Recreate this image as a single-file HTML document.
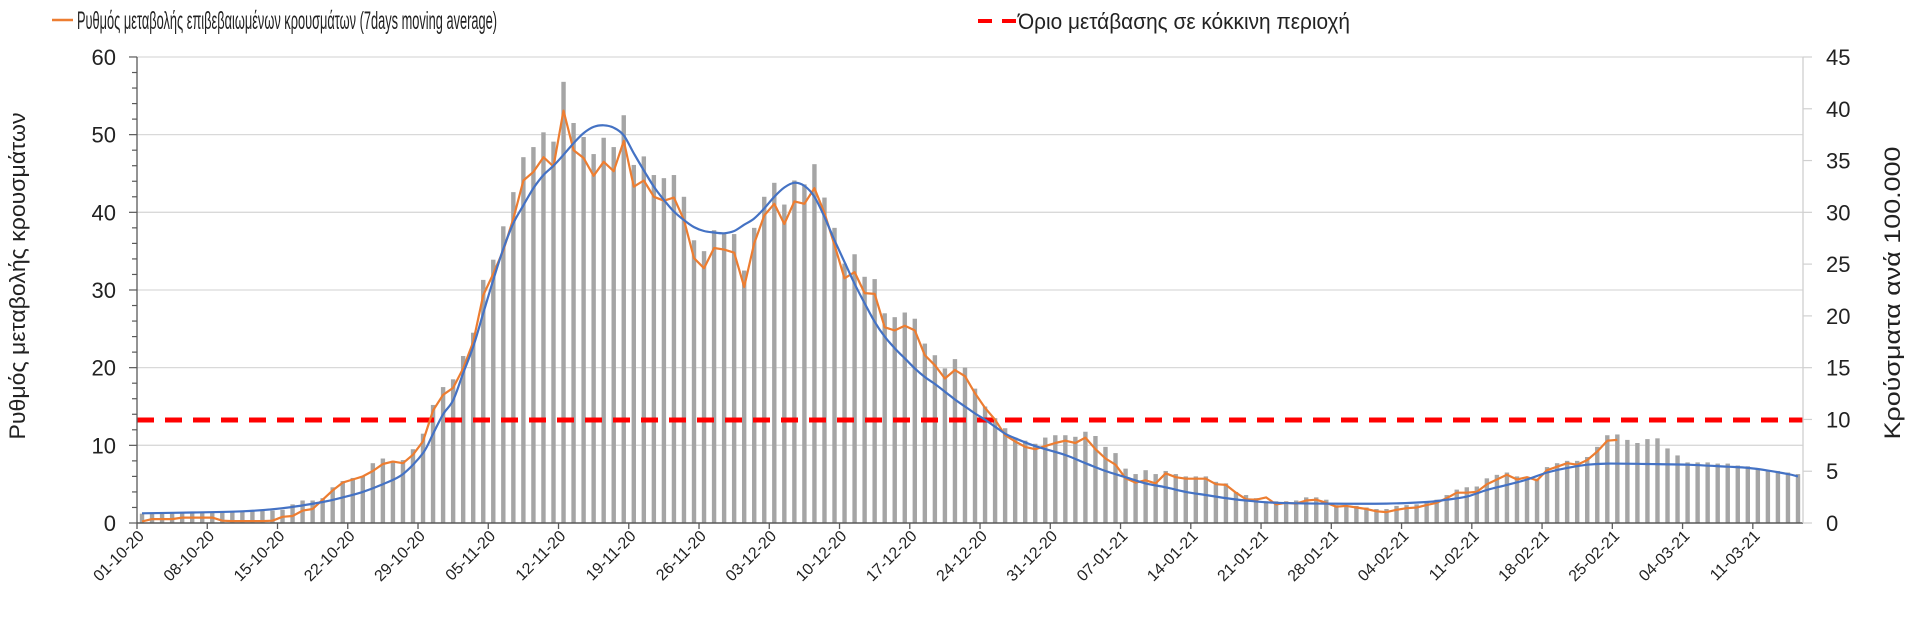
<!DOCTYPE html>
<html><head><meta charset="utf-8">
<style>
html,body{margin:0;padding:0;background:#fff;width:1920px;height:628px;overflow:hidden}
svg{display:block}
text{font-family:"Liberation Sans",sans-serif;fill:#222}
</style></head><body>
<svg id="c" width="1920" height="628" viewBox="0 0 1920 628" xmlns="http://www.w3.org/2000/svg">
<rect width="1920" height="628" fill="#fff"/>
<g id="grid"></g>
<g id="bars"></g>
<line x1="137" y1="420" x2="1803" y2="420" stroke="#ff0000" stroke-width="5" stroke-dasharray="17,11"/>
<polyline id="orange" fill="none" stroke="#ed7d31" stroke-width="2.2" stroke-linejoin="round"/>
<path id="blue" fill="none" stroke="#4472c4" stroke-width="2.2"/>
<g id="axes"></g>
<g id="xl"></g>
<line x1="52" y1="20" x2="73" y2="20" stroke="#ed7d31" stroke-width="2.5"/>
<text x="77" y="29" font-size="25" textLength="420" lengthAdjust="spacingAndGlyphs">Ρυθμός μεταβολής επιβεβαιωμένων κρουσμάτων (7days moving average)</text>
<line x1="978" y1="21" x2="1018" y2="21" stroke="#ff0000" stroke-width="4" stroke-dasharray="14,10"/>
<text x="1018" y="29" font-size="22" textLength="332" lengthAdjust="spacingAndGlyphs">Όριο μετάβασης σε κόκκινη περιοχή</text>
<text transform="translate(25,276) rotate(-90)" text-anchor="middle" font-size="22" textLength="327" lengthAdjust="spacingAndGlyphs">Ρυθμός μεταβολής κρουσμάτων</text>
<text transform="translate(1900,293) rotate(-90)" text-anchor="middle" font-size="22" textLength="293" lengthAdjust="spacingAndGlyphs">Κρούσματα ανά 100.000</text>
</svg>
<script>
var NS="http://www.w3.org/2000/svg";
function el(p,t,a,txt){var e=document.createElementNS(NS,t);for(var k in a)e.setAttribute(k,a[k]);if(txt!==undefined)e.textContent=txt;document.getElementById(p).appendChild(e);return e;}
var X0=137,X1=1803,N=166,W=(X1-X0)/N;
function cx(i){return X0+W*(i+0.5);}
function Y(v){return 523-v*7.767;}
for(var v=10;v<=60;v+=10){el("grid","line",{x1:X0,x2:X1,y1:Y(v),y2:Y(v),stroke:"#d9d9d9","stroke-width":1.3});}
var bars=[1.2,1.2,1.25,1.3,1.3,1.35,1.4,1.4,1.45,1.45,1.5,1.5,1.55,1.6,
1.7,2.4,2.9,2.9,3.2,4.6,5.4,5.8,6.0,7.7,8.3,8.0,8.1,9.5,11.5,
15.2,17.5,18.5,21.5,24.5,31.3,33.9,38.2,42.6,47.1,48.4,50.3,49.1,56.8,51.5,49.7,47.5,49.6,48.4,52.5,46.1,47.2,44.8,44.4,44.8,42.0,36.4,35.0,37.7,37.3,37.2,32.5,38.0,42.0,43.8,41.0,44.1,43.6,46.2,41.9,38.0,33.4,34.6,31.7,31.4,27.0,26.5,27.1,26.3,23.1,21.6,19.9,21.1,20.0,17.3,15.0,13.5,12.2,11.0,10.6,10.2,11.0,11.3,11.3,11.1,11.75,11.2,9.8,9.0,7.0,6.3,6.8,6.3,6.7,6.3,6.0,6.0,6.0,5.3,5.1,4.0,
3.6,3.2,2.8,2.8,2.8,2.9,3.3,3.3,3.0,2.3,2.2,2.2,2.0,1.8,1.8,2.2,2.3,2.4,2.7,3.0,
3.6,4.3,4.6,4.7,5.75,6.2,6.5,6.0,5.75,5.7,7.2,7.7,8.0,8.0,8.5,9.8,11.3,11.4,10.7,10.3,10.8,10.9,9.6,8.7,7.8,7.8,7.8,7.65,7.65,7.4,7.3,7.0,6.8,6.7,6.5,6.3];
for(var i=0;i<bars.length;i++){el("bars","rect",{x:cx(i)-2.2,y:Y(bars[i]),width:4.4,height:523-Y(bars[i]),fill:"#a5a5a5"});}
var org=[0.2,0.5,0.5,0.5,0.7,0.7,0.7,0.7,0.3,0.25,0.25,0.25,0.25,0.3,0.8,0.9,1.6,1.8,3.0,4.2,5.2,5.6,6.0,6.7,7.6,7.9,7.7,8.8,10.5,14.5,16.5,17.4,19.9,23.3,29.3,32.1,35.1,39.2,44.1,45.2,47.1,45.9,53.1,48.0,47.0,44.7,46.5,45.3,49.2,43.3,44.1,42.0,41.5,41.9,39.0,34.1,32.8,35.4,35.2,34.8,30.4,36.0,39.6,41.1,38.5,41.4,41.1,43.1,39.9,35.8,31.5,32.3,29.6,29.5,25.2,24.8,25.4,24.8,21.6,20.3,18.6,19.7,18.9,16.7,14.8,13.3,11.3,10.5,9.8,9.5,9.9,10.3,10.6,10.3,11.0,9.5,8.3,7.5,5.75,5.2,5.5,5.1,6.4,5.9,5.7,5.7,5.7,5.0,4.9,3.9,3.05,3.0,3.3,
2.4,2.6,2.5,2.9,3.0,2.6,2.1,2.2,2.0,1.8,1.5,1.4,1.7,1.9,2.0,2.3,2.6,
3.2,3.9,3.9,4.0,5.0,5.6,6.2,5.6,5.9,5.5,6.8,7.25,7.7,7.5,8.1,9.2,10.6,10.7];
var pts=[];for(var i=0;i<org.length;i++)pts.push(cx(i).toFixed(1)+","+Y(org[i]).toFixed(1));
document.getElementById("orange").setAttribute("points",pts.join(" "));
var bk=[[0,1.25],[5,1.35],[10,1.5],[14,1.9],[18,2.7],[20,3.3],[22,4.0],[24,5.0],[26,6.3],[28,9.0],[29,11.5],[30,14.0],[31,15.8],[32,19.3],[33,22.7],[34,27.0],[35,31.3],[36,35.3],[37,38.6],[38,40.9],[39,43.1],[40,44.8],[41,46.0],[42,47.4],[43,48.9],[44,50.2],[45,51.0],[46,51.2],[47,50.9],[48,49.9],[49,47.6],[50,45.4],[51,43.3],[52,41.6],[53,40.1],[54,39.0],[55,38.1],[56,37.6],[57,37.4],[58,37.3],[59,37.6],[60,38.4],[61,39.2],[62,40.5],[63,42.0],[64,43.2],[65,43.8],[66,43.4],[67,42.0],[68,39.4],[69,36.4],[70,33.6],[71,30.8],[72,28.3],[73,25.9],[74,24.0],[75,22.5],[76,21.2],[77,19.9],[78,18.8],[79,17.9],[80,16.9],[81,15.9],[82,15.0],[83,14.1],[84,13.3],[85,12.4],[86,11.5],[87,10.9],[89,9.9],[92,8.75],[94,7.7],[96,6.7],[98,5.9],[100,5.1],[102,4.6],[104,4.0],[106,3.6],[108,3.2],[110,2.9],[113,2.6],[118,2.5],[124,2.5],[128,2.7],[130,3.0],[132,3.4],[134,4.25],[136,4.9],[138,5.6],[140,6.5],[142,7.1],[144,7.5],[146,7.65],[150,7.6],[154,7.5],[158,7.25],[160,7.1],[162,6.75],[164,6.3],[165,6.0]];
var P=bk.map(function(p){return [cx(p[0]),Y(p[1])];});
var d="M"+P[0][0].toFixed(1)+","+P[0][1].toFixed(1);
for(var i=0;i<P.length-1;i++){var p0=P[Math.max(0,i-1)],p1=P[i],p2=P[i+1],p3=P[Math.min(P.length-1,i+2)];
var c1x=p1[0]+(p2[0]-p0[0])/6,c1y=p1[1]+(p2[1]-p0[1])/6,c2x=p2[0]-(p3[0]-p1[0])/6,c2y=p2[1]-(p3[1]-p1[1])/6;
d+=" C"+c1x.toFixed(1)+","+c1y.toFixed(1)+" "+c2x.toFixed(1)+","+c2y.toFixed(1)+" "+p2[0].toFixed(1)+","+p2[1].toFixed(1);}
document.getElementById("blue").setAttribute("d",d);
el("axes","line",{x1:X0,x2:X0,y1:57,y2:523,stroke:"#595959","stroke-width":1.3});
el("axes","line",{x1:X0,x2:X1,y1:523,y2:523,stroke:"#595959","stroke-width":1.5});
el("axes","line",{x1:X1,x2:X1,y1:57,y2:523,stroke:"#d0d0d0","stroke-width":1.3});
for(var v=0;v<=60;v+=2){var maj=v%10==0;el("axes","line",{x1:maj?129:132,x2:X0,y1:Y(v),y2:Y(v),stroke:"#595959","stroke-width":1.2});
if(maj)el("axes","text",{x:116,y:Y(v)+8,"text-anchor":"end","font-size":22},""+v);}
for(var r=0;r<=45;r+=5){var yy=523-r*466/45;el("axes","line",{x1:X1,x2:1812,y1:yy,y2:yy,stroke:"#d0d0d0","stroke-width":1.2});
el("axes","text",{x:1826,y:yy+8,"font-size":22},""+r);}
var labs=["01-10-20","08-10-20","15-10-20","22-10-20","29-10-20","05-11-20","12-11-20","19-11-20","26-11-20","03-12-20","10-12-20","17-12-20","24-12-20","31-12-20","07-01-21","14-01-21","21-01-21","28-01-21","04-02-21","11-02-21","18-02-21","25-02-21","04-03-21","11-03-21"];
for(var k=0;k<labs.length;k++){var tx=X0+W*7*k;el("axes","line",{x1:tx,x2:tx,y1:523,y2:529,stroke:"#595959","stroke-width":1.3});
var lx=cx(7*k)+3,ly=537;el("xl","text",{transform:"translate("+lx.toFixed(1)+","+ly+") rotate(-45)","text-anchor":"end","font-size":16},labs[k]);}
</script>
</body></html>
